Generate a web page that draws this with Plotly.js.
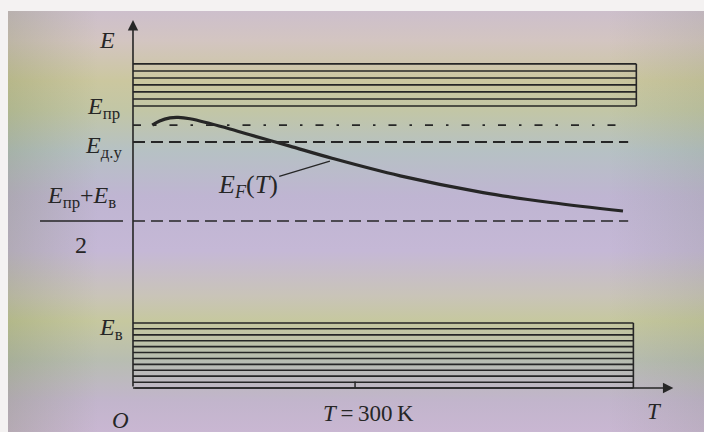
<!DOCTYPE html>
<html>
<head>
<meta charset="utf-8">
<script src="https://cdn.plot.ly/plotly-3.0.1.min.js"></script>
<style>
  html, body { margin: 0; padding: 0; width: 704px; height: 432px; overflow: hidden; background: #f4f2f2; }
  #bg { position: absolute; left: 8px; top: 11px; width: 696px; height: 421px;
    background: linear-gradient(to bottom, #cdbfcc 0px, #d3c5c1 30px, #cbc79f 70px, #c2c6a6 100px,
      #b6c1c4 140px, #bfb5d2 185px, #c5b8d6 240px, #c9c4b8 285px, #c6c89f 310px, #b8bdb2 350px,
      #c2b5cc 390px, #c9b7d2 421px); }
  #shade { position: absolute; left: 8px; top: 11px; width: 696px; height: 421px;
    background: linear-gradient(to right, rgba(90,110,40,0.18) 0px, rgba(90,110,40,0.0) 90px, rgba(0,0,0,0) 600px, rgba(80,100,60,0.10) 696px); }
  #chart { position: absolute; left: 0; top: 0; width: 704px; height: 432px; }
</style>
</head>
<body>
<div id="bg"></div>
<div id="shade"></div>
<div id="chart"></div>
<script>
// ---- data (T in K, energy in arbitrary units, E_v = 0, E_c = 1) ----
const condBandE = [1.000, 1.032, 1.065, 1.097, 1.129, 1.161, 1.194];
const valBandE  = [0.000, -0.027, -0.055, -0.082, -0.109, -0.136, -0.164, -0.191, -0.218, -0.245, -0.273, -0.300];
const condBandT = [0, 680];
const valBandT  = [0, 676];
const levelT    = [0, 669];
const E_c = 1.0;          // E_пр
const E_donor = 0.834;    // E_д.у
const E_dashDot = 0.912;
const E_mid = 0.47;       // (E_пр + E_в)/2
const E_v = 0.0;          // E_в
const E_axis = -0.300;
const T_axisEnd = 730;
const E_axisTop = 1.396;
const tickT = [300];
const fermiT = [26, 36, 50, 61, 77, 104, 131, 158, 185, 212, 270, 361, 473, 564, 662];
const fermiE = [0.912, 0.931, 0.945, 0.947, 0.941, 0.919, 0.894, 0.867, 0.841, 0.815, 0.758, 0.678, 0.601, 0.555, 0.516];

const ink = '#262626';
const serif = 'Liberation Serif, Times New Roman, serif';

const traces = [];
function seg(x, y, w, dash) {
  traces.push({x: x, y: y, type: 'scatter', mode: 'lines', hoverinfo: 'skip', showlegend: false,
    line: {color: ink, width: w, dash: dash || 'solid'}});
}
// conduction band
condBandE.forEach(e => seg(condBandT, [e, e], 1.6));
seg([condBandT[1], condBandT[1]], [condBandE[0], condBandE[condBandE.length - 1]], 1.6);
// valence band
valBandE.forEach(e => seg(valBandT, [e, e], 1.6));
seg([valBandT[1], valBandT[1]], [valBandE[0], valBandE[valBandE.length - 1]], 1.6);
// levels
seg(levelT, [E_dashDot, E_dashDot], 1.8, '8px,13px,2.5px,13px');
seg(levelT, [E_donor, E_donor], 1.8, '12px,6px');
seg(levelT, [E_mid, E_mid], 1.6, '12px,6px');
// tick at 300 K
tickT.forEach(t => seg([t, t], [E_axis, E_axis + 0.03], 1.5));
// Fermi level curve
traces.push({x: fermiT, y: fermiE, type: 'scatter', mode: 'lines', hoverinfo: 'skip', showlegend: false,
  line: {color: ink, width: 3.2, shape: 'spline', smoothing: 1.0}});

const fs = 24;
const annotations = [
  // axes arrows
  {x: 0, y: E_axisTop, ax: 0, ay: E_axis, xref: 'x', yref: 'y', axref: 'x', ayref: 'y',
   showarrow: true, arrowhead: 2, arrowsize: 1.3, arrowwidth: 1.6, arrowcolor: ink, text: '', standoff: 0},
  {x: T_axisEnd, y: E_axis, ax: 0, ay: E_axis, xref: 'x', yref: 'y', axref: 'x', ayref: 'y',
   showarrow: true, arrowhead: 2, arrowsize: 1.3, arrowwidth: 1.6, arrowcolor: ink, text: '', standoff: 0},
  // axis labels
  {text: '<i>E</i>', xref: 'paper', x: 0, xshift: -6, yref: 'y', y: 1.304, showarrow: false,
   xanchor: 'center', yanchor: 'middle', font: {family: serif, size: fs, color: ink}},
  {text: '<i>O</i>', xref: 'paper', x: 0, xshift: 7, yref: 'paper', y: 0, yshift: -20, showarrow: false,
   xanchor: 'center', yanchor: 'middle', font: {family: serif, size: 23, color: ink}},
  {text: '<i>T</i>', xref: 'x', x: 705, yref: 'paper', y: 0, yshift: -11, showarrow: false,
   xanchor: 'center', yanchor: 'middle', font: {family: serif, size: 23, color: ink}},
  {text: '<i>T</i>\u2009=\u2009300\u2009K', xref: 'x', x: tickT[0], xshift: 13, yref: 'paper', y: 0, yshift: -13, showarrow: false,
   xanchor: 'center', yanchor: 'middle', font: {family: serif, size: 23, color: ink}},
  // level labels
  {text: '<i>E</i><sub>пр</sub>', xref: 'paper', x: 0, xshift: 9, yref: 'y', y: E_c, yshift: -2, showarrow: false,
   xanchor: 'right', yanchor: 'middle', font: {family: serif, size: fs, color: ink}},
  {text: '<i>E</i><sub>д.у</sub>', xref: 'paper', x: 0, xshift: 11, yref: 'y', y: E_donor, yshift: -5, showarrow: false,
   xanchor: 'right', yanchor: 'middle', font: {family: serif, size: fs, color: ink}},
  {text: '<i>E</i><sub>пр</sub>+<i>E</i><sub>в</sub>', xref: 'paper', x: 0, xshift: -32, yref: 'y', y: E_mid, yshift: 24,
   showarrow: false, xanchor: 'center', yanchor: 'middle', font: {family: serif, size: fs, color: ink}},
  {text: '2', xref: 'paper', x: 0, xshift: -32, yref: 'y', y: E_mid, yshift: -24,
   showarrow: false, xanchor: 'center', yanchor: 'middle', font: {family: serif, size: fs, color: ink}},
  {text: '<i>E</i><sub>в</sub>', xref: 'paper', x: 0, xshift: 12, yref: 'y', y: E_v, yshift: -6, showarrow: false,
   xanchor: 'right', yanchor: 'middle', font: {family: serif, size: fs, color: ink}},
  // curve label with leader line
  {text: '<i>E<sub>F</sub></i>(<i>T</i>)', xref: 'x', yref: 'y', x: 266, y: 0.746, axref: 'x', ayref: 'y',
   ax: 155, ay: 0.632, showarrow: true, arrowhead: 0, arrowwidth: 1.3, arrowcolor: ink, standoff: 0,
   font: {family: serif, size: 26, color: ink}}
];

const layout = {
  width: 704, height: 432,
  margin: {l: 113, r: 24, t: 12, b: 32},
  paper_bgcolor: 'rgba(0,0,0,0)', plot_bgcolor: 'rgba(0,0,0,0)',
  xaxis: {range: [-27, 739], visible: false, fixedrange: true},
  yaxis: {range: [-0.355, 1.433], visible: false, fixedrange: true},
  shapes: [
    {type: 'line', xref: 'paper', yref: 'y', x0: -0.1287, x1: 0.0176, y0: E_mid, y1: E_mid,
     line: {color: ink, width: 1.6}}
  ],
  annotations: annotations,
  showlegend: false
};

Plotly.newPlot('chart', traces, layout, {displayModeBar: false, staticPlot: true});
</script>
</body>
</html>
